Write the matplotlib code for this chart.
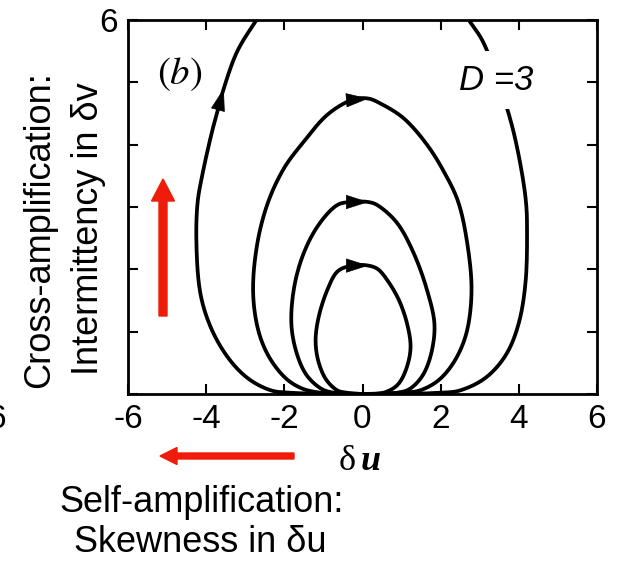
import matplotlib
matplotlib.use('Agg')
import matplotlib.pyplot as plt
from matplotlib.patches import FancyArrow
import numpy as np

plt.rcParams['font.family'] = ['Liberation Sans', 'DejaVu Sans']
plt.rcParams['mathtext.fontset'] = 'stix'
plt.rcParams['axes.unicode_minus'] = False

# ===== DATA: trajectories (du, dv) =====
loop1_u = [0.0, -0.39, -0.65, -0.95, -1.14, -1.20, -1.12, -0.90, -0.65, -0.26, 0.15, 0.40,
           0.63, 0.93, 1.14, 1.23, 1.14, 0.93, 0.63, 0.29, 0.0]
loop1_v = [0.0, 0.02, 0.06, 0.25, 0.55, 0.87, 1.24, 1.67, 1.96, 2.06, 2.06, 2.00,
           1.83, 1.51, 1.13, 0.76, 0.44, 0.17, 0.04, 0.0, 0.0]

loop2_u = [0.0, -0.73, -1.07, -1.46, -1.71, -1.82, -1.76, -1.54, -1.16, -0.65, -0.26, 0.15,
           0.38, 0.89, 1.31, 1.65, 1.84, 1.78, 1.57, 1.23, 0.89, 0.0]
loop2_v = [0.0, 0.02, 0.09, 0.33, 0.71, 1.13, 1.67, 2.20, 2.68, 3.03, 3.08, 3.08,
           3.03, 2.74, 2.26, 1.67, 1.13, 0.71, 0.33, 0.09, 0.02, 0.0]

loop3_u = [0.0, -1.07, -1.59, -2.01, -2.44, -2.69, -2.80, -2.69, -2.42, -2.01, -1.50, -0.90,
           -0.26, 0.15, 0.46, 1.06, 1.65, 2.08, 2.45, 2.68, 2.79, 2.68, 2.42, 2.00, 1.48,
           0.97, 0.0]
loop3_v = [0.0, 0.02, 0.10, 0.28, 0.65, 1.08, 1.67, 2.42, 3.07, 3.62, 4.05, 4.48,
           4.72, 4.74, 4.66, 4.42, 4.00, 3.57, 3.08, 2.42, 1.67, 1.03, 0.60, 0.25, 0.06,
           0.02, 0.0]

loop4_u = [0.0, -1.84, -2.35, -2.95, -3.46, -3.89, -4.15, -4.25, -4.22, -4.10, -3.85, -3.69,
           -3.55, -3.21, -2.71, -2.20, -1.20, 0.0, 1.20, 2.20, 2.72, 3.10, 3.70, 3.96, 4.18,
           4.21, 4.17, 4.00, 3.70, 3.19, 2.51, 2.00, 0.0]
loop4_v = [0.0, 0.02, 0.06, 0.26, 0.60, 1.08, 1.62, 2.42, 3.07, 3.51, 4.21, 4.58,
           4.90, 5.49, 6.00, 6.45, 6.90, 7.05, 6.90, 6.50, 6.00, 5.63, 4.58, 3.94, 3.10,
           2.58, 1.78, 1.14, 0.66, 0.28, 0.06, 0.02, 0.0]

loops = [(loop1_u, loop1_v, 9), (loop2_u, loop2_v, 10),
         (loop3_u, loop3_v, 12), (loop4_u, loop4_v, 11)]   # last item: arrowhead segment index

xticks = [-6, -4, -2, 0, 2, 4, 6]
yticks = [0, 1, 2, 3, 4, 5, 6]
ytick_labels = ['', '', '', '', '', '', '6']

RED = '#EE1C0A'
W, H = 619, 561


def smooth(u, v, n=14):
    # centripetal Catmull-Rom through the read points, only to draw them as a smooth line
    P = np.column_stack([u, v]).astype(float)
    P = np.vstack([2 * P[0] - P[1], P, 2 * P[-1] - P[-2]])
    out = [P[1]]
    for i in range(1, len(P) - 2):
        p0, p1, p2, p3 = P[i - 1], P[i], P[i + 1], P[i + 2]
        t0 = 0.0
        t1 = t0 + np.linalg.norm(p1 - p0) ** 0.5 + 1e-9
        t2 = t1 + np.linalg.norm(p2 - p1) ** 0.5 + 1e-9
        t3 = t2 + np.linalg.norm(p3 - p2) ** 0.5 + 1e-9
        t = np.linspace(t1, t2, n)[1:, None]
        a1 = (t1 - t) / (t1 - t0) * p0 + (t - t0) / (t1 - t0) * p1
        a2 = (t2 - t) / (t2 - t1) * p1 + (t - t1) / (t2 - t1) * p2
        a3 = (t3 - t) / (t3 - t2) * p2 + (t - t2) / (t3 - t2) * p3
        b1 = (t2 - t) / (t2 - t0) * a1 + (t - t0) / (t2 - t0) * a2
        b2 = (t3 - t) / (t3 - t1) * a2 + (t - t1) / (t3 - t1) * a3
        c = (t2 - t) / (t2 - t1) * b1 + (t - t1) / (t2 - t1) * b2
        out.extend(c)
    out = np.array(out)
    return out[:, 0], out[:, 1]


fig = plt.figure(figsize=(W / 100, H / 100), dpi=100)
fig.patch.set_facecolor('white')
ax = fig.add_axes([128 / W, 1 - 394 / H, (597 - 128) / W, (394 - 20) / H])
ax.set_xlim(-6, 6)
ax.set_ylim(0, 6)

for u, v, k in loops:
    su, sv = smooth(u, v)
    ax.plot(su, sv, color='black', lw=2.7, solid_joinstyle='round', solid_capstyle='round')
    ax.annotate('', xy=(u[k + 1], v[k + 1]), xytext=(u[k], v[k]),
                arrowprops=dict(arrowstyle='-|>,head_length=0.75,head_width=0.24',
                                mutation_scale=20, color='black', lw=0.5,
                                shrinkA=0, shrinkB=0))

ax.set_xticks(xticks)
ax.set_xticklabels([str(t) for t in xticks])
ax.set_yticks(yticks)
ax.set_yticklabels(ytick_labels)
ax.tick_params(direction='in', length=7, width=1.5, labelsize=24, pad=7,
               top=True, right=True)
for s in ax.spines.values():
    s.set_linewidth(2)
    s.set_zorder(5)

# labels inside the panel
ax.text(-4.68, 5.13, r'$(b)$', fontsize=28, ha='center', va='center')
ax.text(3.43, 5.03, 'D =3', fontsize=25, style='italic', ha='center', va='center',
        bbox=dict(facecolor='white', edgecolor='none', pad=9), zorder=4)

# red arrows
fig.patches.append(FancyArrow(1.63, (H - 316) / 100, 0, 1.37 - 0.22, width=0.08,
                              head_width=0.23, head_length=0.22, length_includes_head=False,
                              color=RED, transform=fig.dpi_scale_trans, figure=fig))
fig.patches.append(FancyArrow(2.94, (H - 456) / 100, -1.34, 0, width=0.06,
                              head_width=0.17, head_length=0.17, length_includes_head=True,
                              color=RED, transform=fig.dpi_scale_trans, figure=fig))

# axis labels
fig.text(347 / W, 1 - 462 / H, '\u03b4', family='Liberation Serif', fontsize=26,
         ha='center', va='center')
fig.text(371 / W, 1 - 462 / H, 'u', family='Liberation Serif', fontsize=26,
         weight='bold', style='italic', ha='center', va='center')

fig.text(202 / W, 1 - 512 / H, 'Self-amplification:', fontsize=26, ha='center',
         va='baseline')
fig.text(200 / W, 1 - 552 / H, 'Skewness in \u03b4u', fontsize=26, ha='center',
         va='baseline')

fig.text(40 / W, 1 - 230 / H, 'Cross-amplification:', fontsize=26, rotation=90,
         ha='center', va='center')
fig.text(88 / W, 1 - 229 / H, 'Intermittency in \u03b4v', fontsize=26, rotation=90,
         ha='center', va='center')

# cut-off tick label of the neighbouring panel
fig.text(6 / W, 1 - 420 / H, '6', fontsize=24, ha='right', va='center')

fig.savefig('out.png', dpi=100, facecolor='white')
plt.close()
